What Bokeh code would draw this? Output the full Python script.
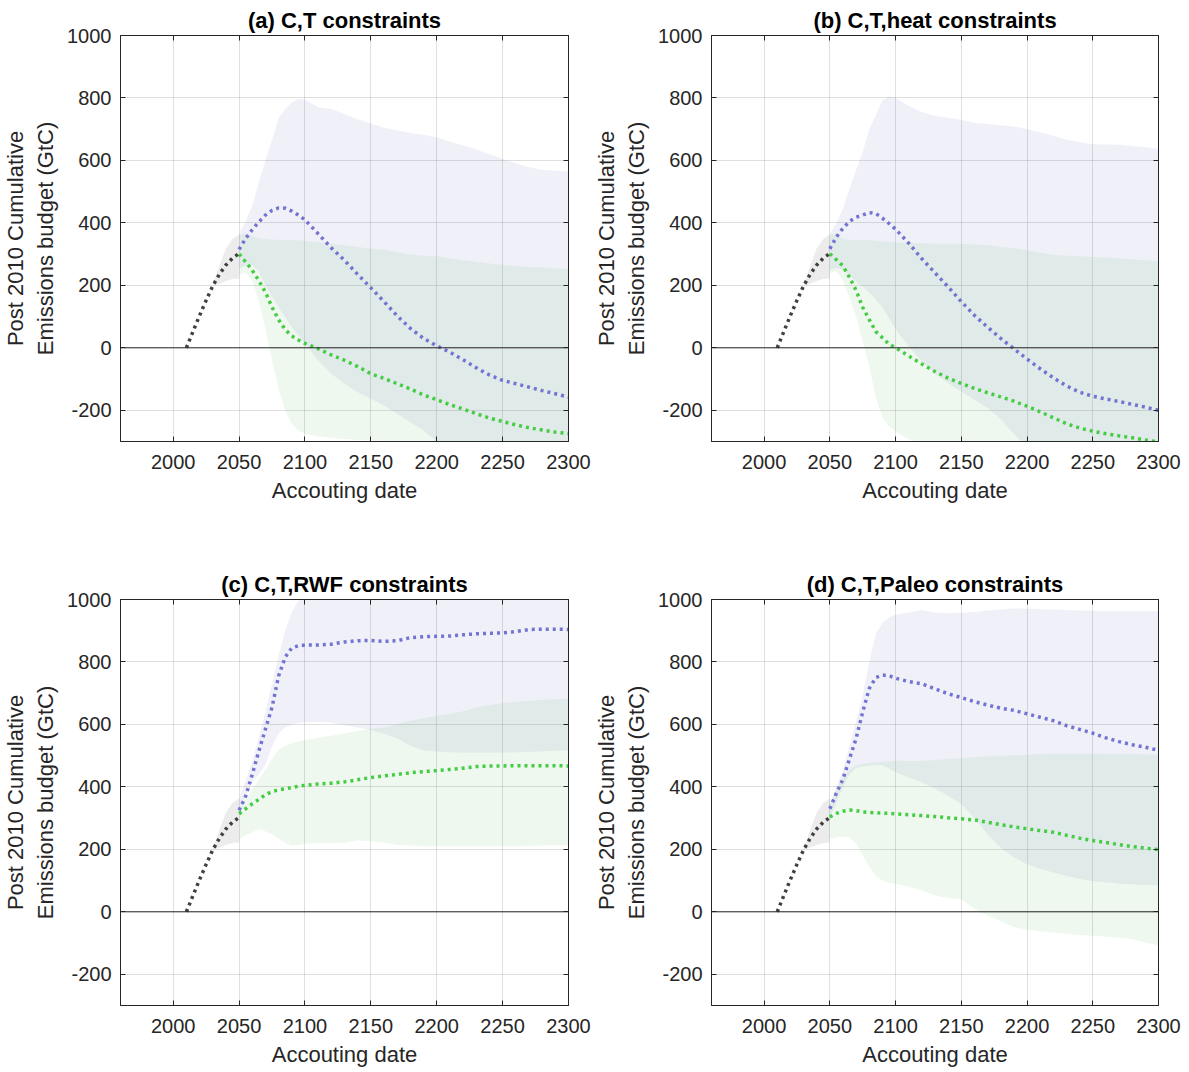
from bokeh.plotting import figure
from bokeh.models import Range1d, FixedTicker, LinearAxis, Span
from bokeh.layouts import column, row
from bokeh.embed import file_html
from bokeh.resources import INLINE

# ---------------- data ----------------
X_TICKS = [2000, 2050, 2100, 2150, 2200, 2250, 2300]
Y_TICKS = [-200, 0, 200, 400, 600, 800, 1000]
Y_TICK_LABELS = ["-200", "0", "200", "400", "600", "800", "1000"]

HIST_YEARS = [2010, 2015, 2020, 2025, 2030, 2035, 2040, 2045, 2050]
HIST_LINE = [0, 52, 103, 152, 198, 235, 265, 287, 302]
HIST_BAND_YEARS = [2030, 2035, 2040, 2045, 2050]
HIST_LOW = [198, 205, 214, 220, 222]
HIST_HIGH = [200, 262, 318, 348, 363]

YEARS = [2050, 2055, 2060, 2065, 2070, 2075, 2080, 2085, 2090, 2095, 2100,
         2110, 2120, 2130, 2140, 2150, 2160, 2170, 2180, 2190, 2200,
         2210, 2220, 2230, 2240, 2250, 2260, 2270, 2280, 2290, 2300]

# (a) C,T constraints
A_BLUE_MED = [315, 350, 378, 403, 425, 440, 448, 447, 438, 425, 410, 365, 320, 280, 235, 192, 148, 102, 62, 30, 6,
              -14, -38, -64, -87, -104, -115, -126, -137, -147, -158]
A_BLUE_HI = [365, 405, 455, 530, 600, 665, 735, 765, 785, 797, 795, 770, 765, 749, 732, 718, 705, 697, 688, 682, 674,
             660, 648, 635, 620, 605, 590, 578, 570, 567, 566]
A_BLUE_LO = [255, 262, 265, 245, 200, 165, 130, 98, 66, 40, 13, -40, -83, -115, -142, -163, -185, -211, -238, -265, -300,
             -330, -350, -370, -385, -400, -410, -420, -430, -440, -450]
A_GREEN_MED = [300, 275, 248, 215, 178, 130, 90, 58, 38, 25, 14, -3, -23, -40, -60, -83, -98, -115, -132, -151, -166,
               -182, -196, -211, -225, -236, -247, -256, -263, -270, -275]
A_GREEN_HI = [360, 368, 358, 350, 348, 346, 346, 345, 345, 344, 342, 338, 333, 328, 323, 318, 314, 305, 298, 295, 293,
              286, 280, 275, 270, 266, 262, 259, 257, 254, 252]
A_GREEN_LO = [235, 240, 215, 150, 60, -40, -130, -200, -245, -265, -275, -283, -288, -292, -295, -297, -299, -300, -301,
              -303, -308, -315, -320, -325, -330, -335, -340, -345, -350, -355, -360]

# (b) C,T,heat constraints
B_BLUE_MED = [317, 355, 383, 405, 418, 425, 433, 430, 415, 398, 380, 335, 285, 240, 195, 148, 104, 66, 30, -3, -36,
              -67, -96, -122, -142, -155, -164, -172, -181, -190, -200]
B_BLUE_HI = [365, 400, 445, 510, 570, 625, 700, 745, 792, 805, 800, 775, 755, 742, 737, 730, 720, 717, 713, 709, 700,
             690, 679, 667, 658, 652, 651, 650, 646, 642, 637]
B_BLUE_LO = [250, 255, 250, 232, 212, 196, 178, 155, 130, 95, 60, 5, -45, -83, -113, -140, -166, -193, -228, -275, -320,
             -340, -360, -375, -390, -400, -410, -420, -430, -440, -450]
B_GREEN_MED = [301, 282, 262, 225, 184, 130, 90, 52, 32, 12, 0, -26, -52, -76, -97, -114, -130, -144, -157, -171, -187,
               -205, -224, -243, -257, -267, -275, -282, -288, -295, -302]
B_GREEN_HI = [362, 365, 348, 345, 346, 345, 344, 343, 340, 339, 338, 336, 334, 333, 333, 333, 331, 328, 323, 319, 312,
              304, 298, 295, 293, 291, 289, 286, 283, 280, 277]
B_GREEN_LO = [240, 245, 215, 160, 100, 20, -60, -160, -222, -250, -268, -293, -305, -315, -320, -325, -330, -335, -340,
              -345, -350, -355, -360, -365, -370, -375, -380, -385, -390, -395, -400]

# (c) C,T,RWF constraints
C_BLUE_MED = [325, 370, 440, 515, 585, 655, 755, 815, 845, 852, 854, 854, 857, 864, 868, 869, 866, 868, 878, 881, 882,
              883, 887, 890, 892, 893, 897, 904, 905, 905, 904]
C_BLUE_HI = [360, 420, 480, 560, 640, 730, 820, 900, 960, 995, 1015, 1030, 1030, 1030, 1030, 1030, 1030, 1030, 1030,
             1030, 1030, 1030, 1030, 1030, 1030, 1030, 1030, 1030, 1030, 1030, 1030]
C_BLUE_LO = [300, 370, 415, 440, 470, 530, 570, 590, 600, 605, 607, 608, 605, 597, 590, 582, 570, 555, 532, 517, 513,
             511, 510, 509, 509, 510, 511, 512, 514, 516, 517]
C_GREEN_MED = [314, 330, 346, 360, 375, 385, 390, 394, 398, 402, 405, 409, 412, 416, 423, 430, 435, 440, 445, 449, 452,
               456, 460, 465, 467, 467, 468, 468, 468, 468, 467]
C_GREEN_HI = [330, 360, 390, 425, 455, 490, 520, 532, 540, 545, 549, 557, 564, 571, 580, 586, 590, 600, 612, 620, 627,
              633, 642, 654, 662, 668, 672, 676, 679, 681, 683]
C_GREEN_LO = [232, 245, 255, 265, 258, 248, 235, 220, 212, 214, 218, 220, 220, 221, 228, 226, 222, 215, 212, 210, 210,
              210, 210, 210, 210, 210, 210, 211, 212, 213, 213]

# (d) C,T,Paleo constraints
D_BLUE_MED = [330, 380, 425, 490, 555, 640, 715, 750, 758, 756, 748, 737, 730, 714, 698, 686, 673, 662, 652, 645, 634,
              623, 612, 596, 584, 572, 557, 545, 535, 527, 517]
D_BLUE_HI = [346, 400, 455, 530, 610, 690, 800, 890, 925, 943, 952, 958, 966, 958, 956, 957, 960, 965, 968, 971, 970,
             969, 968, 966, 965, 964, 963, 963, 963, 963, 963]
D_BLUE_LO = [300, 350, 400, 440, 462, 465, 468, 470, 469, 460, 448, 430, 415, 395, 372, 345, 300, 248, 205, 175, 152,
             138, 126, 115, 105, 99, 95, 91, 88, 86, 85]
D_GREEN_MED = [304, 315, 322, 326, 324, 320, 318, 317, 316, 315, 314, 311, 308, 305, 301, 298, 294, 287, 279, 272, 266,
               260, 255, 245, 236, 228, 222, 215, 209, 204, 199]
D_GREEN_HI = [341, 390, 430, 455, 468, 474, 477, 479, 480, 482, 484, 483, 483, 486, 489, 492, 495, 497, 499, 501, 503,
              505, 506, 506, 506, 506, 506, 505, 505, 504, 504]
D_GREEN_LO = [235, 238, 240, 238, 218, 180, 145, 115, 100, 93, 90, 80, 68, 52, 44, 40, 10, -12, -30, -49, -57,
              -62, -66, -70, -74, -77, -80, -83, -88, -98, -108]

TITLES = ["(a) C,T constraints", "(b) C,T,heat constraints",
          "(c) C,T,RWF constraints", "(d) C,T,Paleo constraints"]

# ---------------- style ----------------
FONT = "Liberation Sans"
TXT = "#262626"
BLUE_FILL = "#6969c3"
GREEN_FILL = "#55b955"
GRAY_FILL = "#404040"
BLUE_LINE = "#7373d2"
GREEN_LINE = "#44cc44"
BLACK_LINE = "#404040"
DASH = "3 4"


def style_axis(ax, ticks, labels=True):
    ax.ticker = FixedTicker(ticks=ticks)
    ax.major_tick_in = 5
    ax.major_tick_out = 0
    ax.minor_tick_line_color = None
    ax.major_tick_line_color = TXT
    ax.axis_line_color = TXT
    ax.major_label_text_font = FONT
    if labels:
        ax.major_label_text_color = TXT
        ax.major_label_text_font_size = "20px"
    else:
        ax.major_label_text_color = None
        ax.major_label_text_font_size = "1px"
        ax.major_label_standoff = 0


def make_panel(title, blue, green, bl, br, bt, bb, fw):
    b_med, b_lo, b_hi = blue
    g_med, g_lo, g_hi = green
    p = figure(frame_width=fw, frame_height=406,
               x_range=Range1d(1960, 2300), y_range=Range1d(-300, 1000),
               output_backend="svg", toolbar_location=None,
               min_border_left=bl, min_border_right=br,
               min_border_top=bt, min_border_bottom=bb,
               background_fill_color="white", border_fill_color="white")
    p.title.text = title
    p.title.align = "center"
    p.title.text_font = FONT
    p.title.text_font_size = "22px"
    p.title.text_font_style = "bold"
    p.title.text_color = "black"
    p.title.standoff = 6
    p.outline_line_color = TXT
    p.outline_line_width = 1

    style_axis(p.xaxis[0], X_TICKS)
    style_axis(p.yaxis[0], Y_TICKS)
    p.yaxis.major_label_overrides = {t: s for t, s in zip(Y_TICKS, Y_TICK_LABELS)}
    p.xaxis.major_label_standoff = 13
    p.yaxis.major_label_standoff = 9
    p.xaxis.axis_label = "Accouting date"
    p.yaxis.axis_label = "Post 2010 Cumulative\nEmissions budget (GtC)"
    for ax in (p.xaxis[0], p.yaxis[0]):
        ax.axis_label_text_font = FONT
        ax.axis_label_text_font_size = "22px"
        ax.axis_label_text_font_style = "normal"
        ax.axis_label_text_color = TXT
    p.xaxis.axis_label_standoff = 6
    p.yaxis.axis_label_standoff = 6

    ra = LinearAxis()
    style_axis(ra, Y_TICKS, labels=False)
    p.add_layout(ra, "right")
    ta = LinearAxis()
    style_axis(ta, X_TICKS, labels=False)
    p.add_layout(ta, "above")

    p.xgrid.ticker = FixedTicker(ticks=X_TICKS)
    p.ygrid.ticker = FixedTicker(ticks=Y_TICKS)
    for g in (p.xgrid[0], p.ygrid[0]):
        g.grid_line_color = TXT
        g.grid_line_alpha = 0.15

    p.varea(x=YEARS, y1=b_lo, y2=b_hi, fill_color=BLUE_FILL, fill_alpha=0.1)
    p.varea(x=YEARS, y1=g_lo, y2=g_hi, fill_color=GREEN_FILL, fill_alpha=0.1)
    p.varea(x=HIST_BAND_YEARS, y1=HIST_LOW, y2=HIST_HIGH, fill_color=GRAY_FILL, fill_alpha=0.1)

    p.add_layout(Span(location=0, dimension="width", line_color=TXT, line_width=1))

    p.line(YEARS, b_med, line_color=BLUE_LINE, line_width=3.5, line_dash=DASH)
    p.line(YEARS, g_med, line_color=GREEN_LINE, line_width=3.5, line_dash=DASH)
    p.line(HIST_YEARS, HIST_LINE, line_color=BLACK_LINE, line_width=3.5, line_dash=DASH)
    return p


pa = make_panel(TITLES[0], (A_BLUE_MED, A_BLUE_LO, A_BLUE_HI), (A_GREEN_MED, A_GREEN_LO, A_GREEN_HI),
                120, 23, 35, 123, 448)
pb = make_panel(TITLES[1], (B_BLUE_MED, B_BLUE_LO, B_BLUE_HI), (B_GREEN_MED, B_GREEN_LO, B_GREEN_HI),
                120, 31, 35, 123, 447)
pc = make_panel(TITLES[2], (C_BLUE_MED, C_BLUE_LO, C_BLUE_HI), (C_GREEN_MED, C_GREEN_LO, C_GREEN_HI),
                120, 23, 35, 67, 448)
pd = make_panel(TITLES[3], (D_BLUE_MED, D_BLUE_LO, D_BLUE_HI), (D_GREEN_MED, D_GREEN_LO, D_GREEN_HI),
                120, 31, 35, 67, 447)

layout = column(row(pa, pb), row(pc, pd))
open("out.html", "w").write(file_html(layout, INLINE))
